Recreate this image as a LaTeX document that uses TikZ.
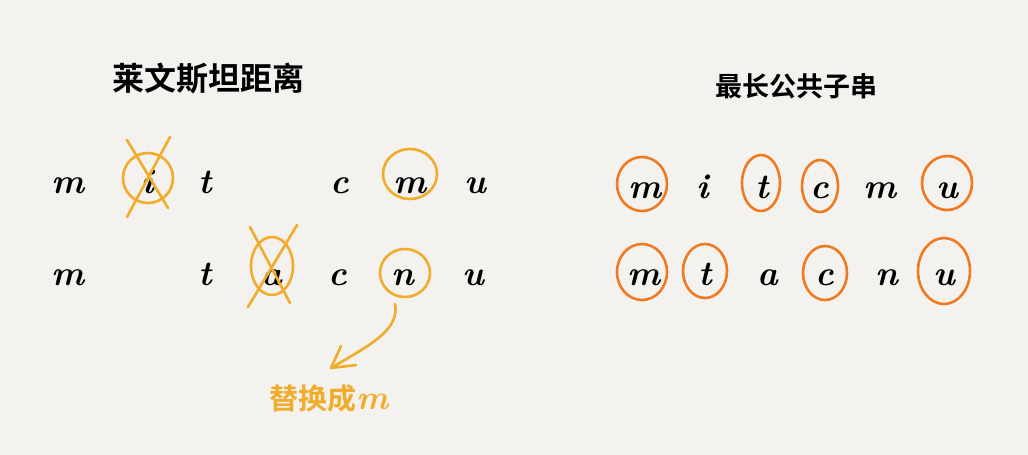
\documentclass[tikz,border=0pt]{standalone}
\usepackage{fontspec}
\newfontfamily\cjk{Noto Sans CJK SC}[BoldFont={Noto Sans CJK SC Bold}]
\usetikzlibrary{arrows.meta,shapes.geometric}
\definecolor{bg}{HTML}{F4F2EE}
\definecolor{amber}{HTML}{F2AC2C}
\definecolor{orng}{HTML}{F07A22}
\begin{document}
\begin{tikzpicture}[x=1pt,y=-1pt,
  ch/.style={font=\fontsize{35}{35}\selectfont\bfseries\itshape, text=black, inner sep=0pt, anchor=base},
  title/.style={font=\cjk\bfseries\fontsize{32}{32}\selectfont, inner sep=0pt},
  ring/.style={draw=amber, line width=2.6pt},
  oring/.style={draw=orng, line width=2.6pt},
  cross/.style={draw=amber, line width=2.6pt, line cap=round}]
\fill[bg] (0,0) rectangle (1028,455);
\useasboundingbox (0,0) rectangle (1028,455);
% titles
\node[title] (t1) at (208,79) {莱文斯坦距离};
\node[title, font=\cjk\bfseries\fontsize{27}{27}\selectfont] (t2) at (796,86) {最长公共子串};
% left rows
\node[ch] (a1) at (68,193) {m};
\node[ch] (a2) at (148,193) {i};
\node[ch] (a3) at (205,193) {t};
\node[ch] (a4) at (340,193) {c};
\node[ch] (a5) at (410,193) {m};
\node[ch] (a6) at (475,193) {u};
\node[ch] (b1) at (68,285) {m};
\node[ch] (b2) at (205,285) {t};
\node[ch] (b3) at (272,285) {a};
\node[ch] (b4) at (338,285) {c};
\node[ch] (b5) at (403,285) {n};
\node[ch] (b6) at (473,285) {u};
% left annotations
\draw[ring] (148,178) ellipse [x radius=25, y radius=25];
\draw[cross] (127,140) -- (168,208);
\draw[cross] (170,137) -- (127,217);
\draw[ring] (410,174) ellipse [x radius=27, y radius=25];
\draw[ring] (272,266) ellipse [x radius=21, y radius=29];
\draw[cross] (250,227) -- (290,303);
\draw[cross] (297,225) -- (248,307);
\draw[ring] (405,273) ellipse [x radius=25, y radius=24];
\coordinate (nb) at (395,304);
\node[font=\cjk\bfseries\fontsize{29}{29}\selectfont, text=amber, inner sep=0pt] (rep) at (329,399) {替换成{\rmfamily\bfseries\itshape\fontsize{34}{34}\selectfont m}};
\coordinate (tip) at (331,368);
\draw[amber, line width=2.6pt, line cap=round] (nb) .. controls (400,330) and (370,345) .. (tip);
\draw[amber, line width=2.6pt, line cap=round, line join=round] (341,346) -- (tip) -- (356,365);
% right rows
\node[ch] (c1) at (645,198) {m};
\node[ch] (c2) at (703,198) {i};
\node[ch] (c3) at (762,198) {t};
\node[ch] (c4) at (820,198) {c};
\node[ch] (c5) at (880,198) {m};
\node[ch] (c6) at (947,198) {u};
\node[ch] (d1) at (644,285) {m};
\node[ch] (d2) at (705,285) {t};
\node[ch] (d3) at (768,285) {a};
\node[ch] (d4) at (825,285) {c};
\node[ch] (d5) at (887,285) {n};
\node[ch] (d6) at (944,285) {u};
\draw[oring] (642,184) ellipse [x radius=25, y radius=27];
\draw[oring] (761,183) ellipse [x radius=19, y radius=28];
\draw[oring] (820,186) ellipse [x radius=18, y radius=26];
\draw[oring] (947,183) ellipse [x radius=25, y radius=27];
\draw[oring] (642,272) ellipse [x radius=25, y radius=28];
\draw[oring] (705,271) ellipse [x radius=22, y radius=27];
\draw[oring] (825,273) ellipse [x radius=22, y radius=27];
\draw[oring] (944,271) ellipse [x radius=26, y radius=33];
\end{tikzpicture}
\end{document}
